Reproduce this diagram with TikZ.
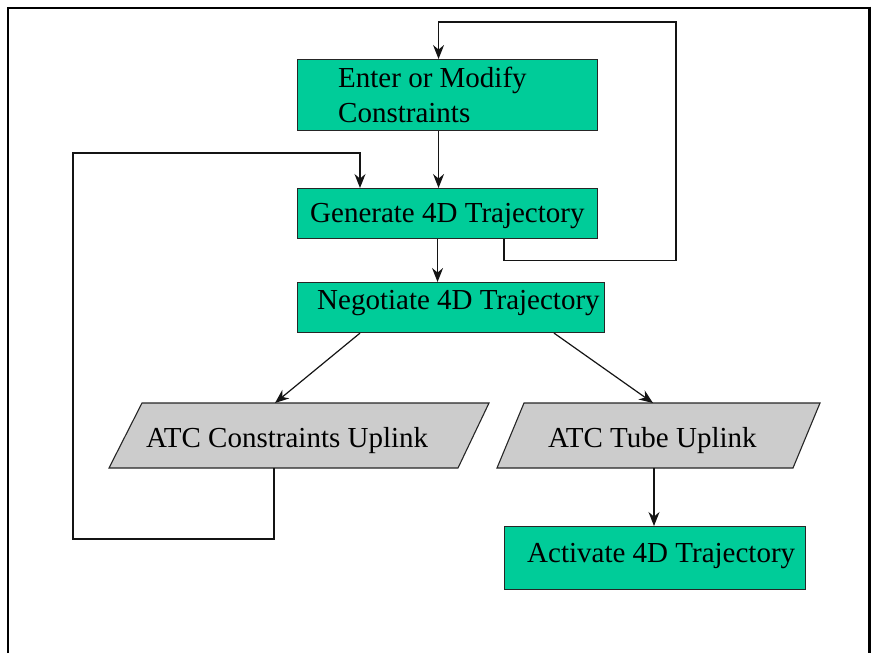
\documentclass[tikz,border=0pt]{standalone}
\usepackage{fontspec}
\setmainfont{Liberation Serif}
\usetikzlibrary{arrows.meta}
\definecolor{boxgreen}{RGB}{0,204,153}
\definecolor{uplinkgray}{RGB}{204,204,204}
\definecolor{wire}{RGB}{20,20,20}

\begin{document}
\begin{tikzpicture}[x=1pt,y=-1pt,
  stepbox/.style={fill=boxgreen,draw=black!85,line width=1.1pt,anchor=north west,inner sep=0pt},
  uplink/.style={fill=uplinkgray,draw=black!85,line width=1.1pt,line join=miter},
  label/.style={anchor=base west,inner sep=0pt,align=left,
                font=\fontsize{29}{35}\selectfont},
  flow/.style={draw=wire,line width=1.2pt,-{Stealth[length=14pt,width=11pt]}},
  loopline/.style={draw=wire,line width=1.2pt}]
\useasboundingbox (0,0) rectangle (875,653);

% outer frame, open at the bottom
\draw[line width=2pt] (8,653) -- (8,7.7) -- (869,7.7);
\draw[line width=3.5pt] (869.5,6.5) -- (869.5,653);

% process boxes
\node[stepbox,minimum width=300,minimum height=71] (enter) at (297,59) {};
\node[stepbox,minimum width=300,minimum height=50] (gen) at (297,188) {};
\node[stepbox,minimum width=307,minimum height=50] (neg) at (297,282) {};
\node[stepbox,minimum width=301,minimum height=63] (act) at (504,526) {};

% uplink parallelograms
\filldraw[uplink] (142,403) -- (489,403) -- (458,468) -- (109,468) -- cycle;
\filldraw[uplink] (524,403) -- (820,403) -- (793,468) -- (497,468) -- cycle;
\coordinate (acu-in)  at (275,403);
\coordinate (acu-out) at (274,468);
\coordinate (atu-in)  at (653,403);
\coordinate (atu-out) at (654,468);

% texts (a two-line node sits on the baseline of its last line)
\node[label] (enterlbl) at (338,122) {Enter or Modify\\Constraints};
\node[label] (genlbl) at (310,222) {Generate 4D Trajectory};
\node[label] (neglbl) at (317,309) {Negotiate 4D Trajectory};
\node[label] (acu) at (146,447) {ATC Constraints Uplink};
\node[label] (atu) at (548,447) {ATC Tube Uplink};
\node[label] (actlbl) at (527,562) {Activate 4D Trajectory};

% main flow
\draw[flow] ([xshift=-9pt]enter.south) -- ([xshift=-9pt]gen.north);
\draw[flow] ([xshift=-10pt]gen.south) -- ([xshift=-10pt]gen.south |- neg.north);
\draw[flow] ([xshift=63pt]neg.south west) -- (acu-in);
\draw[flow] ([xshift=257pt]neg.south west) -- (atu-in);
\draw[flow] (atu-out) -- (atu-out |- act.north);

% feedback loops
\draw[flow] ([xshift=207pt]gen.south west) -- ++(0,21) -| (676,22) -| ([xshift=-9pt]enter.north);
\draw[flow] (acu-out) -- ++(0,71) -| (73,153) -| ([xshift=63pt]gen.north west);
\end{tikzpicture}
\end{document}
